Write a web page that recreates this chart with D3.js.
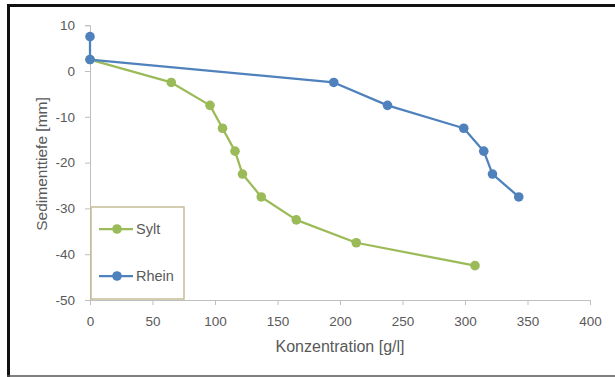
<!DOCTYPE html>
<html>
<head>
<meta charset="utf-8">
<script src="https://cdn.jsdelivr.net/npm/d3@7"></script>
<style>
  body { margin: 0; background: #fff; }
  svg { display: block; font-family: "Liberation Sans", Arial, sans-serif; }
</style>
</head>
<body>
<svg id="chart" width="615" height="377"></svg>
<script>
// Konzentration [g/l] vs. Sedimenttiefe [mm]
const syltX = [0, 65, 96, 106, 116, 122, 137, 165, 213, 308]
const syltY = [2.5, -2.5, -7.5, -12.5, -17.5, -22.5, -27.5, -32.5, -37.5, -42.5]
const rheinX = [0, 0, 195, 238, 299, 315, 322, 343]
const rheinY = [7.5, 2.5, -2.5, -7.5, -12.5, -17.5, -22.5, -27.5]
const xTicks = [0, 50, 100, 150, 200, 250, 300, 350, 400]
const yTicks = [10, 0, -10, -20, -30, -40, -50]

const series = [
  { name: 'Sylt', color: '#9bbb59', xs: syltX, ys: syltY },
  { name: 'Rhein', color: '#4f81bd', xs: rheinX, ys: rheinY }
]

const svg = d3.select('#chart')

// Rahmen
svg.append('rect').attr('x', 0).attr('y', 0).attr('width', 615).attr('height', 377).attr('fill', '#fff')
svg.append('line').attr('x1', 7).attr('x2', 615).attr('y1', 5.5).attr('y2', 5.5)
  .attr('stroke', '#111').attr('stroke-width', 3)
svg.append('line').attr('x1', 8.5).attr('x2', 8.5).attr('y1', 4).attr('y2', 377)
  .attr('stroke', '#111').attr('stroke-width', 3)
svg.append('line').attr('x1', 7).attr('x2', 615).attr('y1', 376).attr('y2', 376)
  .attr('stroke', '#555').attr('stroke-width', 1.5)

const x = d3.scaleLinear().domain([0, 400]).range([90, 590])
const y = d3.scaleLinear().domain([-50, 10]).range([300, 25.2])

const axisColor = '#bfbfbf'
const textColor = '#595959'
const fmt = d => String(d)

// x-Achse
const gx = svg.append('g').attr('transform', `translate(0,${y(-50)})`)
  .call(d3.axisBottom(x).tickValues(xTicks).tickFormat(fmt).tickSize(5).tickPadding(11))
gx.select('.domain').attr('stroke', axisColor)
gx.selectAll('.tick line').attr('stroke', axisColor)
gx.selectAll('.tick text').attr('fill', textColor).style('font-size', '13.5px')

// y-Achse
const gy = svg.append('g').attr('transform', `translate(${x(0)},0)`)
  .call(d3.axisLeft(y).tickValues(yTicks).tickFormat(fmt).tickSize(5).tickPadding(10))
gy.select('.domain').attr('stroke', axisColor)
gy.selectAll('.tick line').attr('stroke', axisColor)
gy.selectAll('.tick text').attr('fill', textColor).style('font-size', '13.5px')

// Achsentitel
svg.append('text').attr('x', 340).attr('y', 352).attr('text-anchor', 'middle')
  .attr('fill', textColor).style('font-size', '16px').text('Konzentration [g/l]')
svg.append('text').attr('transform', 'translate(47,164) rotate(-90)').attr('text-anchor', 'middle')
  .attr('fill', textColor).style('font-size', '15.5px').text('Sedimenttiefe [mm]')

// Linien
const line = d3.line().x(d => x(d[0])).y(d => y(d[1]))
series.forEach(s => {
  const pts = s.xs.map((v, i) => [v, s.ys[i]])
  svg.append('path').datum(pts).attr('d', line)
    .attr('fill', 'none').attr('stroke', s.color).attr('stroke-width', 2.25)
    .attr('stroke-linejoin', 'round')
  svg.append('g').selectAll('circle').data(pts).join('circle')
    .attr('cx', d => x(d[0])).attr('cy', d => y(d[1])).attr('r', 4.8)
    .attr('fill', s.color)
})

// Legende
const lg = svg.append('g')
lg.append('rect').attr('x', 91).attr('y', 207).attr('width', 93).attr('height', 92)
  .attr('fill', '#fff').attr('stroke', '#c4bd97').attr('stroke-width', 1.5)
series.forEach((s, i) => {
  const ly = 229 + i * 47
  lg.append('line').attr('x1', 99).attr('x2', 133).attr('y1', ly).attr('y2', ly)
    .attr('stroke', s.color).attr('stroke-width', 2.25)
  lg.append('circle').attr('cx', 117).attr('cy', ly).attr('r', 4.8).attr('fill', s.color)
  lg.append('text').attr('x', 136).attr('y', ly + 5).attr('fill', textColor)
    .style('font-size', '14.5px').text(s.name)
})
</script>
</body>
</html>
